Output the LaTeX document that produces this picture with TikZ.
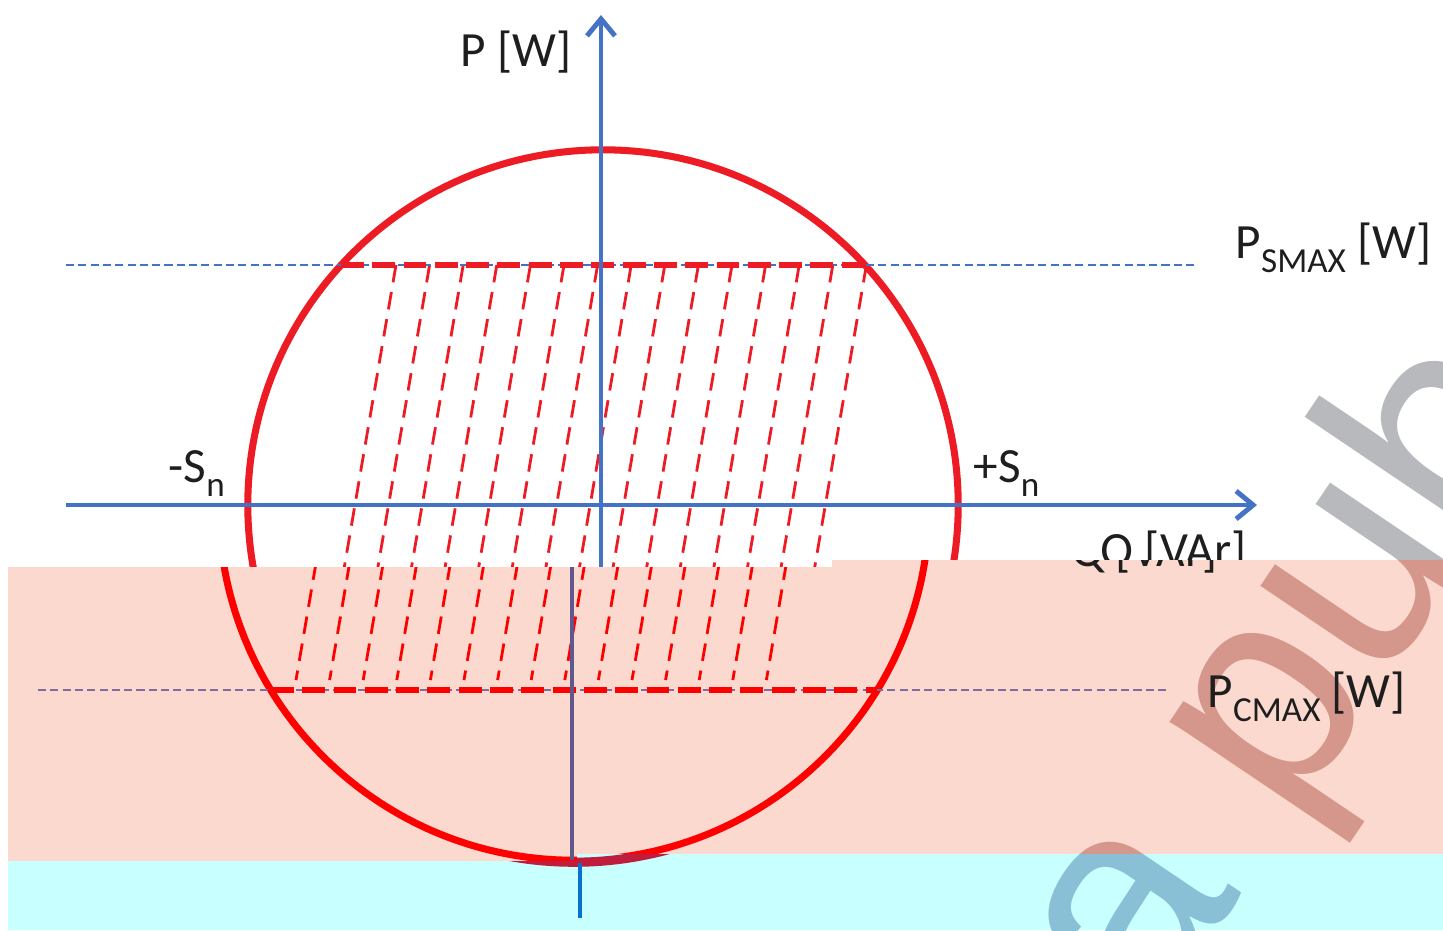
\documentclass[tikz,border=0pt]{standalone}
\usepackage{fontspec}
\setmainfont{Carlito}
\newfontfamily\wmfamily{Liberation Sans}
\usetikzlibrary{arrows.meta}

\definecolor{axisblue}{RGB}{68,114,196}
\definecolor{circred}{RGB}{237,28,36}
\definecolor{hotred}{RGB}{255,0,0}
\definecolor{bandpink}{RGB}{252,217,207}
\definecolor{bandcyan}{RGB}{200,255,255}
\definecolor{wmgray}{RGB}{183,185,189}
\definecolor{wmrose}{RGB}{213,150,140}
\definecolor{wmblue}{RGB}{137,192,214}
\definecolor{axispurple}{RGB}{96,88,140}
\definecolor{guidepurple}{RGB}{128,108,160}
\definecolor{crimson}{RGB}{192,28,60}
\definecolor{cyanaxis}{RGB}{10,112,208}
\definecolor{labelgray}{RGB}{30,30,30}

\tikzset{
  axisline/.style={line width=1.4pt},
  axisarrow/.style={axisline,-{Straight Barb[length=1.7mm,width=2.8mm,line width=1.4pt]}},
  circline/.style={line width=2pt},
  guideline/.style={line width=0.6pt,dash pattern=on 2.3pt off 1.2pt},
  limitline/.style={line width=1.7pt,dash pattern=on 6.5pt off 2.4pt},
  hatchline/.style={line width=0.8pt,dash pattern=on 5pt off 2.8pt},
  lbl/.style={font=\fontsize{14}{16}\selectfont,text=labelgray,inner sep=0pt,anchor=base west},
  wmark/.style={font=\wmfamily\fontsize{84}{84}\selectfont,inner sep=0pt,anchor=base west,rotate=56}
}

\newcommand{\lowtxt}[1]{\raisebox{-0.3em}{\fontsize{10}{10}\selectfont #1}}

% #1 axis colour, #2 guide colour, #3 red
\newcommand{\pqchart}[3]{%
  \coordinate (O) at (603,505);
  \coordinate (qstart) at (66,505);
  \coordinate (qend) at (1257,505);
  \coordinate (pstart) at (601,860);
  \coordinate (pend) at (601,15);
  \draw[circline,#3] (O) circle[radius=3.55cm];
  % hatched operating area
  \foreach \k in {0,...,14}
    \draw[hatchline,#3] ({396+33.6*\k},265) -- ({325+33.6*\k},680);
  % limits
  \coordinate (smaxL) at (66,265);
  \coordinate (smaxR) at (1197,265);
  \coordinate (smaxA) at (341,265);
  \coordinate (smaxB) at (865,265);
  \coordinate (cmaxL) at (67,690);
  \coordinate (cmaxR) at (1199,690);
  \coordinate (cmaxA) at (300,690);
  \coordinate (cmaxB) at (906,690);
  \draw[guideline,#2] (smaxL) -- (smaxR);
  \draw[guideline,#2] (cmaxL) -- (cmaxR);
  \draw[limitline,#3] (smaxA) -- (smaxB);
  \draw[limitline,#3] (cmaxA) -- (cmaxB);
  % axes
  \draw[axisarrow,#1] (qstart) -- (qend);
  \draw[axisarrow,#1] (pstart) -- (pend);
  \node[lbl] (plabel) at (460,66) {P [W]};
  \node[lbl] (qlabel) at (1100,566) {Q [VAr]};
  \node[lbl] (snminus) at (168,482) {-S\lowtxt{n}};
  \node[lbl] (snplus) at (973,482) {+S\lowtxt{n}};
  \node[lbl] (psmax) at (1235,258) {P\lowtxt{SMAX} [W]};
  \node[lbl] (pcmax) at (1236,707) {P\lowtxt{CMAX} [W]};
}

\begin{document}
\begin{tikzpicture}[x=0.01cm,y=-0.01cm]
\useasboundingbox (0,0) rectangle (1443,930);

% upper white part
\begin{scope}
  \clip (0,0) -- (1443,0) -- (1443,560) -- (832,560) -- (832,567) -- (0,567) -- cycle;
  \node[wmark,text=wmgray] (wmtop) at (1150,1030) {a pub};
  \pqchart{axisblue}{axisblue}{circred}
\end{scope}

% pink band
\fill[bandpink] (8,567) -- (832,567) -- (832,560) -- (1443,560) -- (1443,854) -- (577,854) -- (577,861) -- (8,861) -- cycle;
\begin{scope}
  \clip (8,567) -- (832,567) -- (832,560) -- (1443,560) -- (1443,854) -- (577,854) -- (577,861) -- (8,861) -- cycle;
  \node[wmark,text=wmrose] (wmmid) at (1150,1030) {a pub};
  \begin{scope}[shift={(-29,0)}]
    \pqchart{axispurple}{guidepurple}{hotred}
  \end{scope}
\end{scope}

% cyan band
\fill[bandcyan] (8,861) -- (577,861) -- (577,854) -- (1443,854) -- (1443,930) -- (8,930) -- cycle;
\begin{scope}
  \clip (8,861) -- (577,861) -- (577,854) -- (1443,854) -- (1443,930) -- (8,930) -- cycle;
  \node[wmark,text=wmblue] (wmlow) at (1150,1030) {a pub};
  \coordinate (Olow) at (574,505);
  \draw[line width=2.6pt,crimson] (Olow) circle[radius=3.57cm];
\end{scope}
\coordinate (stubtop) at (580,863);
\coordinate (stubend) at (580,918);
\draw[axisline,cyanaxis] (stubtop) -- (stubend);
\end{tikzpicture}
\end{document}
